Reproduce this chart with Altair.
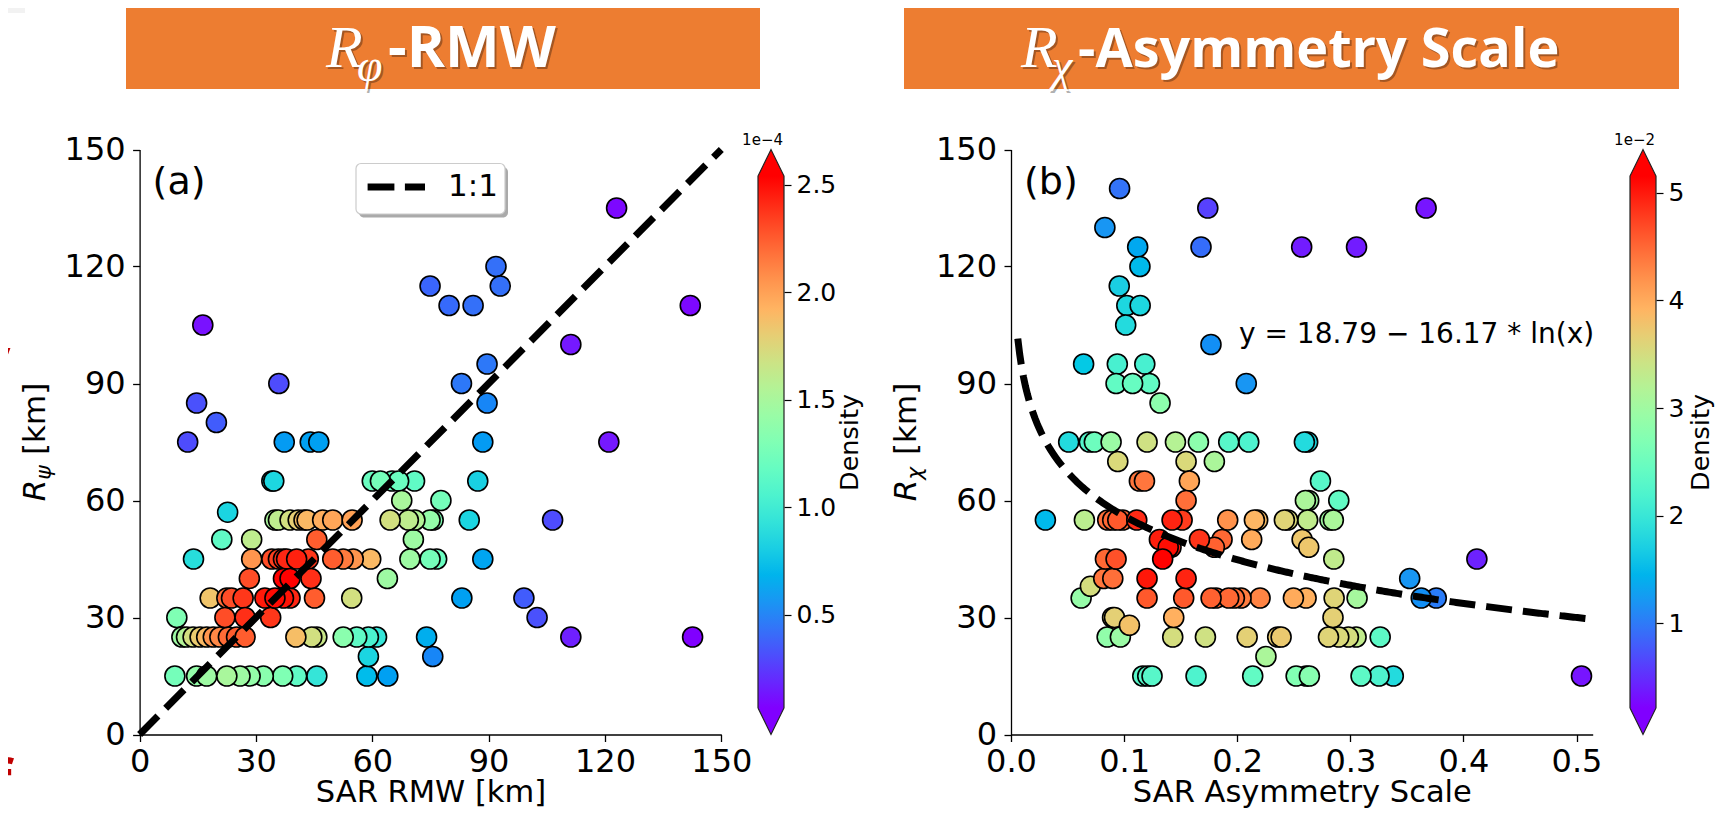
import altair as alt
import numpy as np
import pandas as pd

# ---------------- Panel (a): SAR RMW vs R_psi ----------------
a_x = [123.0, 91.9, 74.9, 93.0, 79.8, 86.0, 142.0, 16.3, 111.2, 89.6, 35.9, 83.0, 14.7, 89.6, 19.8,
       12.4, 37.3, 44.0, 46.2, 88.5, 121.0,
       34.1, 34.6, 60.0, 62.1, 65.1, 66.8, 70.9, 87.2,
       67.6, 77.7, 22.7,
       34.9, 35.8, 38.8, 40.9, 42.4, 43.2, 47.2, 49.8, 54.8, 64.6, 69.3, 71.0, 74.9, 75.7, 85.0, 106.5,
       21.2, 28.9, 45.7, 70.6,
       13.9, 28.9, 34.1, 35.8, 37.1, 37.9, 40.5, 43.5, 49.8, 52.5, 55.1, 59.6, 69.7, 74.9, 76.6, 88.5,
       28.3, 37.1, 38.8, 44.2, 63.9,
       18.2, 22.5, 23.7, 26.7, 32.3, 34.9, 37.1, 38.8, 45.1, 54.7, 83.1, 99.1,
       9.6, 22.0, 27.2, 33.8, 102.5,
       10.9, 12.1, 13.8, 15.6, 17.3, 19.0, 20.7, 22.9, 25.0, 27.2, 40.3, 44.4, 45.7, 52.5, 56.0, 59.0,
       61.1, 74.0, 111.2, 142.6,
       59.0, 75.6,
       9.1, 14.7, 17.3, 22.5, 25.9, 28.5, 31.9, 36.9, 40.5, 45.7, 58.6, 64.0]
a_y = [135, 120, 115, 115, 110, 110, 110, 105, 100, 95, 90, 90, 85, 85, 80,
       75, 75, 75, 75, 75, 75,
       65, 65, 65, 65, 65, 65, 65, 65,
       60, 60, 57,
       55, 55, 55, 55, 55, 55, 55, 55, 55, 55, 55, 55, 55, 55, 55, 55,
       50, 50, 50, 50,
       45, 45, 45, 45, 45, 45, 45, 45, 45, 45, 45, 45, 45, 45, 45, 45,
       40, 40, 40, 40, 40,
       35, 35, 35, 35, 35, 35, 35, 35, 35, 35, 35, 35,
       30, 30, 30, 30, 30,
       25, 25, 25, 25, 25, 25, 25, 25, 25, 25, 25, 25, 25, 25, 25, 25,
       25, 25, 25, 25,
       20, 20,
       15, 15, 15, 15, 15, 15, 15, 15, 15, 15, 15, 15]
a_d = [0.08, 0.42, 0.38, 0.42, 0.40, 0.42, 0.08, 0.10, 0.12, 0.45, 0.30, 0.45, 0.32, 0.50, 0.35,
       0.30, 0.58, 0.60, 0.60, 0.58, 0.12,
       0.85, 0.86, 1.20, 1.25, 1.20, 1.20, 1.15, 0.82,
       1.50, 1.25, 0.85,
       1.50, 1.60, 1.70, 1.80, 1.88, 1.90, 1.95, 1.98, 2.00, 1.70, 1.60, 1.55, 1.40, 1.30, 0.85, 0.30,
       1.15, 1.60, 2.25, 1.45,
       0.90, 2.05, 2.30, 2.35, 2.40, 2.42, 2.45, 2.38, 2.25, 2.15, 2.05, 1.90, 1.45, 1.25, 1.20, 0.62,
       2.30, 2.54, 2.54, 2.40, 1.45,
       1.85, 2.20, 2.30, 2.38, 2.48, 2.52, 2.50, 2.42, 2.25, 1.70, 0.60, 0.35,
       1.30, 2.30, 2.40, 2.38, 0.32,
       1.45, 1.55, 1.70, 1.82, 1.90, 2.05, 2.10, 2.20, 2.25, 2.25, 1.88, 1.70, 1.65, 1.35, 1.15, 1.05,
       0.95, 0.66, 0.15, 0.06,
       0.85, 0.50,
       1.25, 1.40, 1.45, 1.50, 1.45, 1.40, 1.35, 1.30, 1.15, 0.95, 0.72, 0.60]

# ---------------- Panel (b): SAR asymmetry scale vs R_chi ----------------
b_x = [0.096, 0.174, 0.367, 0.083, 0.112, 0.168, 0.257, 0.3055, 0.114, 0.0957, 0.1024, 0.1142, 0.1014,
       0.1768, 0.0642, 0.094, 0.1183, 0.0929, 0.1075, 0.1224, 0.208, 0.1318,
       0.051, 0.0693, 0.0737, 0.0885, 0.1203, 0.1454, 0.1657, 0.1925, 0.2102, 0.2594, 0.2623,
       0.0944, 0.1548, 0.1798,
       0.1135, 0.118, 0.1577, 0.2736,
       0.1548, 0.2603, 0.2632, 0.2898,
       0.0304, 0.0649, 0.0855, 0.0899, 0.0944, 0.0988, 0.1112, 0.1424, 0.1513, 0.1916, 0.2152, 0.2181,
       0.2417, 0.2447, 0.2623, 0.282, 0.285,
       0.1312, 0.1666, 0.1866, 0.2128, 0.2574,
       0.139, 0.1415, 0.1798, 0.2632,
       0.0835, 0.0929, 0.1341, 0.2854, 0.4119,
       0.082, 0.09, 0.1203, 0.1548, 0.3525,
       0.0702,
       0.062, 0.1203, 0.1527, 0.1769, 0.1813, 0.1925, 0.1975, 0.2034, 0.2202, 0.2497, 0.2609, 0.2857,
       0.306, 0.3627, 0.376,
       0.0898, 0.0915, 0.1439, 0.2847,
       0.1047,
       0.085, 0.0967, 0.143, 0.1719, 0.2088, 0.2358, 0.2388, 0.2807, 0.2898, 0.2983, 0.3051, 0.3264,
       0.2254,
       0.1165, 0.1209, 0.1247, 0.1636, 0.2137, 0.2521, 0.2609, 0.2638, 0.3095, 0.3254, 0.338, 0.5044]
b_y = [140, 135, 135, 130, 125, 125, 125, 125, 120, 115, 110, 110, 105, 100, 95, 95, 95, 90, 90, 90, 90, 85,
       75, 75, 75, 75, 75, 75, 75, 75, 75, 75, 75,
       70, 70, 70,
       65, 65, 65, 65,
       60, 60, 60, 60,
       55, 55, 55, 55, 55, 55, 55, 55, 55, 55, 55, 55, 55, 55, 55, 55, 55,
       50, 50, 50, 50, 50,
       48, 48, 48, 48,
       45, 45, 45, 45, 45,
       40, 40, 40, 40, 40,
       38,
       35, 35, 35, 35, 35, 35, 35, 35, 35, 35, 35, 35, 35, 35, 35,
       30, 30, 30, 30,
       28,
       25, 25, 25, 25, 25, 25, 25, 25, 25, 25, 25, 25,
       20,
       15, 15, 15, 15, 15, 15, 15, 15, 15, 15, 15, 15]
b_d = [0.95, 0.60, 0.30, 1.20, 1.35, 0.90, 0.35, 0.35, 1.50, 1.70, 1.80, 1.80, 1.85, 1.15, 1.65, 2.15,
       2.15, 2.40, 2.45, 2.40, 1.20, 2.80,
       1.85, 2.25, 2.50, 2.95, 3.45, 3.20, 2.80, 2.30, 2.20, 1.85, 1.80,
       3.55, 3.55, 3.10,
       4.40, 4.40, 4.05, 2.30,
       4.45, 3.10, 3.00, 2.40,
       1.50, 3.25, 4.45, 4.50, 4.60, 4.50, 4.90, 4.95, 4.80, 4.20, 3.90, 3.85, 3.60, 3.55, 3.30, 3.00, 3.10,
       5.00, 4.85, 4.50, 4.00, 3.75,
       5.10, 5.05, 4.55, 3.75,
       4.50, 4.65, 5.15, 3.30, 0.40,
       4.40, 4.45, 5.05, 4.95, 1.20,
       3.50,
       2.90, 4.60, 4.60, 4.55, 4.50, 4.50, 4.45, 4.35, 4.30, 4.00, 3.95, 3.60, 3.05, 1.15, 1.00,
       3.60, 3.65, 3.95, 3.65,
       3.80,
       2.85, 2.95, 3.50, 3.45, 3.65, 3.70, 3.72, 3.60, 3.55, 3.50, 3.30, 2.35,
       3.10,
       2.30, 2.30, 2.30, 2.20, 2.40, 2.70, 2.60, 2.75, 2.35, 2.20, 1.85, 0.30]

assert len(a_x) == len(a_y) == len(a_d)
assert len(b_x) == len(b_y) == len(b_d)

a_ticks = [0, 30, 60, 90, 120, 150]
b_xticks = [0.0, 0.1, 0.2, 0.3, 0.4, 0.5]
a_cbar_ticks = [0.5, 1.0, 1.5, 2.0, 2.5]
b_cbar_ticks = [1, 2, 3, 4, 5]
a_dmin, a_dmax = 0.066, 2.541      # x 1e-4
b_dmin, b_dmax = 0.216, 5.154      # x 1e-2
b_xmax = 0.5143
fit_c0, fit_c1 = 18.79, 16.17      # y = c0 - c1 * ln(x)

# ---------------- layout (page pixels) ----------------
W, H = 1708, 800
OX = OY = 8
def vx(p): return float(p - OX)
def vy(p): return float(p - OY)

P_TOP, P_BOT = 149.5, 734.5
A_L, A_R = 139.6, 721.3
B_L, B_R = 1011.0, 1592.7
CA_L, CA_R = 758.0, 784.0
CB_L, CB_R = 1630.0, 1656.0
EXT = (P_BOT - P_TOP) / 1.1 * 0.05
FONT = 'DejaVu Sans'
ORANGE = '#ED7D31'


def rainbow(t):
    r = min(abs(2 * t - 0.5), 1.0)
    g = np.sin(np.pi * t)
    b = np.cos(np.pi * t / 2)
    return '#%02x%02x%02x' % tuple(int(round(max(0.0, min(1.0, c)) * 255)) for c in (r, g, b))


TS = [float(t) for t in np.linspace(0, 1, 21)]


def cscale(vmin, vmax):
    return alt.Scale(type='linear', domain=[float(vmin + t * (vmax - vmin)) for t in TS],
                     range=[rainbow(t) for t in TS], clamp=True, zero=False, nice=False)


AX = dict(grid=False, domainColor='black', domainWidth=1.3, tickColor='black', tickWidth=1.3,
          tickSize=7, labelFont=FONT, labelColor='black', labelFontSize=32, labelOverlap=False,
          labelFlush=False, labelBound=False)
TITLE = dict(titleFont=FONT, titleFontSize=30.5, titleFontWeight='normal', titleColor='black',
             titleBaseline='alphabetic', titleY=67.0)


def panel(df, xs, ys, xaxis, yaxis, vmin, vmax, line_df, dash):
    X = alt.X('x:Q', scale=xs, axis=xaxis)
    Y = alt.Y('y:Q', scale=ys, axis=yaxis)
    pts = alt.Chart(df).mark_circle(size=400, opacity=1, stroke='black', strokeWidth=1.6).encode(
        x=X, y=Y, color=alt.Color('d:Q', scale=cscale(vmin, vmax), legend=None),
        order=alt.Order('d:Q', sort='ascending'))
    line = alt.Chart(line_df).mark_line(color='black', strokeWidth=7, strokeDash=dash).encode(x=X, y=Y)
    return alt.layer(pts, line)


# panel (a)
xa = alt.Scale(domain=[0, 150], range=[vx(A_L), vx(A_R)], nice=False, zero=False)
ya = alt.Scale(domain=[0, 150], range=[vy(P_BOT), vy(P_TOP)], nice=False, zero=False)
axa_x = alt.Axis(orient='bottom', offset=vy(P_BOT) - H, values=a_ticks, labelPadding=4.5,
                 title='SAR RMW [km]', **TITLE, **AX)
axa_y = alt.Axis(orient='left', offset=-vx(A_L), values=a_ticks, labelPadding=7.5, title=None, **AX)
df_a = pd.DataFrame({'x': a_x, 'y': a_y, 'd': a_d})
one_to_one = pd.DataFrame({'x': [0.0, 150.0], 'y': [0.0, 150.0]})
panel_a = panel(df_a, xa, ya, axa_x, axa_y, a_dmin, a_dmax, one_to_one, [26, 11])

# panel (b)
xb = alt.Scale(domain=[0, b_xmax], range=[vx(B_L), vx(B_R)], nice=False, zero=False)
yb = alt.Scale(domain=[0, 150], range=[vy(P_BOT), vy(P_TOP)], nice=False, zero=False)
axb_x = alt.Axis(orient='bottom', offset=vy(P_BOT) - H, values=b_xticks, format='.1f', labelPadding=4.5,
                 title='SAR Asymmetry Scale', **TITLE, **AX)
axb_y = alt.Axis(orient='left', offset=-vx(B_L), values=a_ticks, labelPadding=7.5, title=None, **AX)
df_b = pd.DataFrame({'x': b_x, 'y': b_y, 'd': b_d})
fx = np.linspace(0.006, b_xmax, 300)
fit = pd.DataFrame({'x': fx, 'y': fit_c0 - fit_c1 * np.log(fx)})
panel_b = panel(df_b, xb, yb, axb_x, axb_y, b_dmin, b_dmax, fit, [26, 11])


def colorbar(vmin, vmax, left, right, ticks, fmt, title_dx):
    ext = (vmax - vmin) * 0.05
    xs = alt.Scale(domain=[0, 1], range=[vx(left), vx(right)], nice=False, zero=False)
    ys = alt.Scale(domain=[vmin, vmax], range=[vy(P_BOT) - EXT, vy(P_TOP) + EXT], nice=False, zero=False)
    ax = alt.Axis(orient='right', offset=vx(right) - W, values=ticks, format=fmt, domain=False, grid=False,
                  tickColor='black', tickWidth=1.2, tickSize=7, labelFont=FONT, labelFontSize=25,
                  labelColor='black', labelPadding=5, labelOverlap=False, labelFlush=False, labelBound=False,
                  title='Density', titleFont=FONT, titleFontSize=25.5, titleFontWeight='normal',
                  titleColor='black', titleAngle=270, titleX=title_dx,
                  titleY=(vy(P_TOP) + vy(P_BOT)) / 2, titleAlign='center', titleBaseline='middle')
    X = alt.X('x:Q', scale=xs, axis=None)
    Y = alt.Y('y:Q', scale=ys, axis=ax)
    grad = alt.LinearGradient(gradient='linear', x1=0, x2=0, y1=1, y2=0,
                              stops=[alt.GradientStop(offset=t, color=rainbow(t)) for t in TS])
    rect = alt.Chart(pd.DataFrame({'x': [0.0], 'x2': [1.0], 'y': [vmin], 'y2': [vmax]})).mark_rect(
        fill=grad).encode(x=X, x2='x2:Q', y=Y, y2='y2:Q')
    top = alt.Chart(pd.DataFrame({'x': [0.0, 0.5, 1.0], 'y': [vmax, vmax + ext, vmax],
                                  'y2': [vmax, vmax, vmax]})).mark_area(color=rainbow(1.0)).encode(
        x=X, y=Y, y2='y2:Q')
    bot = alt.Chart(pd.DataFrame({'x': [0.0, 0.5, 1.0], 'y': [vmin, vmin - ext, vmin],
                                  'y2': [vmin, vmin, vmin]})).mark_area(color=rainbow(0.0)).encode(
        x=X, y=Y, y2='y2:Q')
    outline = alt.Chart(pd.DataFrame({
        'x': [0.0, 0.0, 0.5, 1.0, 1.0, 0.5, 0.0],
        'y': [vmin, vmax, vmax + ext, vmax, vmin, vmin - ext, vmin],
        'o': [0, 1, 2, 3, 4, 5, 6]})).mark_line(color='#222222', strokeWidth=1.2).encode(
        x=X, y=Y, order='o:Q')
    return alt.layer(rect, top, bot, outline)


cbar_a = colorbar(a_dmin, a_dmax, CA_L, CA_R, a_cbar_ticks, '.1f', 849.5 - CA_R)
cbar_b = colorbar(b_dmin, b_dmax, CB_L, CB_R, b_cbar_ticks, 'd', 1700.5 - CB_R)


def txt(s, x, y, size, font=FONT, color='black', align='left', baseline='alphabetic',
        weight='normal', style='normal', angle=0, opacity=1.0):
    return alt.Chart(alt.Data(values=[{}])).mark_text(
        text=s, font=font, fontSize=size, color=color, align=align, baseline=baseline,
        fontWeight=weight, fontStyle=style, angle=angle, opacity=opacity).encode(
        x=alt.value(float(x)), y=alt.value(float(y)))


def box(x, x2, y, y2, fill, stroke=None, sw=0.0, radius=0.0, opacity=1.0):
    kw = dict(fill=fill, cornerRadius=radius, opacity=opacity)
    if stroke:
        kw.update(stroke=stroke, strokeWidth=sw)
    return alt.Chart(alt.Data(values=[{}])).mark_rect(**kw).encode(
        x=alt.value(float(x)), x2=alt.value(float(x2)), y=alt.value(float(y)), y2=alt.value(float(y2)))


def banner_text(parts):
    layers = []
    for dx, dy, col, op in [(2, 2, 'black', 0.3), (0, 0, 'white', 1.0)]:
        for (s, x, y, size, font, weight, style) in parts:
            layers.append(txt(s, x + dx, y + dy, size, font=font, color=col, weight=weight,
                              style=style, opacity=op))
    return layers


deco = []
# cropped slide remnants at the left edge
deco.append(box(0, 17, -8, 5, '#f2f2f2'))
deco.append(txt('y', 2.5, 368, 52, font='Noto Sans', color='#C00000', align='right', weight='bold'))
deco.append(txt('f', 3.5, 791, 55, font='Noto Sans', color='#C00000', align='right', weight='bold'))

# orange title banners
deco.append(box(vx(126), vx(760), -3, vy(89), ORANGE))
deco.append(box(vx(904), vx(1679), -3, vy(89), ORANGE))
deco += banner_text([
    ('R', 318, 59, 60, 'Liberation Serif', 'normal', 'italic'),
    ('φ', 349, 73, 46, 'Liberation Serif', 'normal', 'italic'),
    ('-RMW', 380, 59, 58, 'Open Sans', 'bold', 'normal'),
    ('R', 1013, 59, 60, 'Liberation Serif', 'normal', 'italic'),
    ('χ', 1044, 73, 46, 'Liberation Serif', 'normal', 'italic'),
    ('-Asymmetry Scale', 1070, 59, 54, 'Open Sans', 'bold', 'normal'),
])

# panel labels
deco.append(txt('(a)', vx(152.6), vy(183), 38, baseline='middle'))
deco.append(txt('(b)', vx(1024), vy(183), 38, baseline='middle'))

# legend for the 1:1 line
deco.append(box(vx(359), vx(508), vy(167), vy(217.5), '#aaaaaa', radius=5))
deco.append(box(vx(356), vx(505), vy(163.5), vy(214), 'white', stroke='#cccccc', sw=1.2, radius=5))
deco.append(alt.Chart(alt.Data(values=[{}])).mark_rule(color='black', strokeWidth=7,
                                                        strokeDash=[26.8, 10.5]).encode(
    x=alt.value(vx(367.6)), x2=alt.value(vx(425.0)), y=alt.value(vy(187))))
deco.append(txt('1:1', vx(448), vy(187), 31, baseline='middle'))

# fit equation
deco.append(txt('y = 18.79 \u2212 16.17 * ln(x)', vx(1239), vy(335), 28, baseline='middle'))

# colorbar offset labels
deco.append(txt('1e\u22124', vx(783), vy(145), 15, align='right'))
deco.append(txt('1e\u22122', vx(1655), vy(145), 15, align='right'))


# y-axis titles with italic symbol and subscript (rotated)
def ytitle(base_x, start_y, sub):
    fs = 31
    out = [txt('R', base_x, start_y, fs, style='italic', angle=270)]
    y2 = start_y - 0.695 * fs
    out.append(txt(sub, base_x + 6, y2, fs * 0.7, style='italic', angle=270))
    y3 = y2 - 0.685 * fs * 0.7 - 0.318 * fs
    out.append(txt('[km]', base_x, y3, fs, angle=270))
    return out


deco += ytitle(vx(45.3), vy(501.3), 'ψ')
deco += ytitle(vx(916.0), vy(501.3), 'χ')

chart = alt.layer(*deco[:7], panel_a, panel_b, cbar_a, cbar_b, *deco[7:]).resolve_scale(
    x='independent', y='independent', color='independent').resolve_axis(
    x='independent', y='independent').properties(
    width=W, height=H, padding=0, background='white',
    autosize=alt.AutoSizeParams(type='none')).configure_view(stroke=None)

chart.save('out.html', embed_options={'renderer': 'svg', 'actions': False})
